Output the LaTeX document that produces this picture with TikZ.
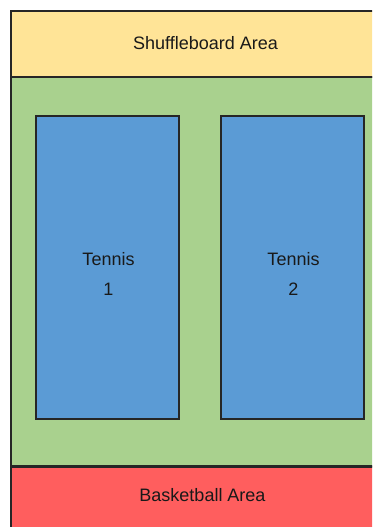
\documentclass[tikz,border=0pt]{standalone}
\usepackage{fontspec}
\setmainfont{Liberation Sans}
\definecolor{shuffleyellow}{HTML}{FFE497}
\definecolor{lawngreen}{HTML}{A9D18E}
\definecolor{courtblue}{HTML}{5B9BD5}
\definecolor{basketred}{HTML}{FF5E5E}
\begin{document}
\begin{tikzpicture}[
    x=1pt, y=-1pt,
    every node/.style={font=\fontsize{18}{30}\selectfont, align=center, text=black!90},
    zone/.style={rectangle, draw=black!85, line width=2pt, minimum width=389pt, inner sep=0pt},
    court/.style={rectangle, draw=black!85, line width=1.8pt, fill=courtblue, minimum width=143pt, minimum height=303pt}
]
\useasboundingbox (0,0) rectangle (372,527);
\clip (0,0) rectangle (372,527);
\node[zone, fill=lawngreen, minimum height=389pt] (lawn) at (205.5,271.5) {};
\node[zone, fill=shuffleyellow, minimum height=66pt] (shuffle) at (205.5,44) {};
\node[zone, fill=basketred, minimum height=80pt, anchor=north] (basket) at (205.5,466) {};
\node[court] (court1) at (107.5,267.5) {};
\node[court] (court2) at (292.5,267.5) {};
% labels
\node (shufflename) at (205.5,43.5) {Shuffleboard Area};
\node (basketname)  at (202.5,495.5) {Basketball Area};
\node (court1name)  at (108.5,274) {Tennis\\1};
\node (court2name)  at (293.5,274) {Tennis\\2};
\end{tikzpicture}
\end{document}
